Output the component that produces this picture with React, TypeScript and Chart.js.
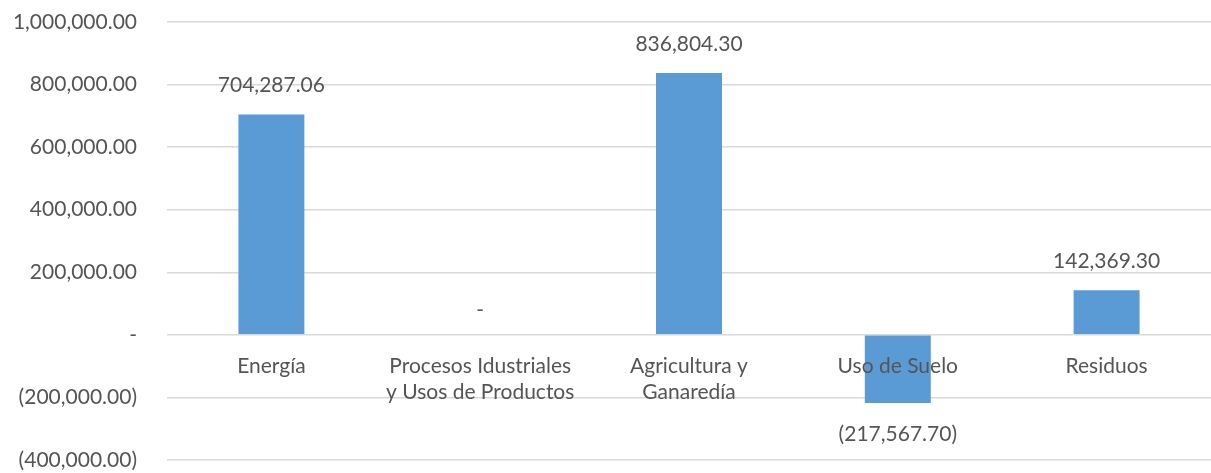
import React, { useEffect, useRef } from "react";
import { Chart, registerables } from "chart.js";

Chart.register(...registerables);

const categories: string[][] = [
  ["Energía"],
  ["Procesos Idustriales", "y Usos de Productos"],
  ["Agricultura y", "Ganaredía"],
  ["Uso de Suelo"],
  ["Residuos"],
];
const values: number[] = [704287.06, 0, 836804.3, -217567.7, 142369.3];
const yMin = -400000;
const yMax = 1000000;
const yStep = 200000;

const FONT = "Lato, 'Open Sans', sans-serif";
const TEXT = "#555555";
const FS = 21;

const fmt = (v: number) => {
  if (v === 0) return "-";
  const s = Math.abs(v).toLocaleString("en-US", { minimumFractionDigits: 2, maximumFractionDigits: 2 });
  return v < 0 ? `(${s})` : s;
};

const labelPlugin = {
  id: "labelPlugin",
  afterDatasetsDraw(chart: any) {
    const ctx = chart.ctx;
    const xs = chart.scales.x;
    const ys = chart.scales.y;
    const zeroY = ys.getPixelForValue(0);
    ctx.save();
    ctx.fillStyle = TEXT;
    ctx.font = `${FS}px ${FONT}`;
    ctx.textAlign = "center";
    ctx.textBaseline = "middle";
    categories.forEach((lines, i) => {
      const x = xs.getPixelForValue(i);
      lines.forEach((ln, j) => {
        ctx.fillText(ln, x, zeroY + 31 + j * 26);
      });
    });
    values.forEach((v, i) => {
      const x = xs.getPixelForValue(i);
      const yv = ys.getPixelForValue(v);
      let y: number;
      if (v > 0) y = yv - 29;
      else if (v < 0) y = yv + 31;
      else y = zeroY - 25;
      ctx.fillText(fmt(v), x, y);
    });
    ctx.restore();
  },
};

export default function App() {
  const ref = useRef<HTMLCanvasElement>(null);
  useEffect(() => {
    if (!ref.current) return;
    const chart = new Chart(ref.current, {
      type: "bar",
      data: {
        labels: categories.map((c) => c.join(" ")),
        datasets: [
          {
            data: values,
            backgroundColor: "#5B9BD5",
            borderWidth: 0,
            barPercentage: 0.316,
            categoryPercentage: 1,
          },
        ],
      },
      options: {
        animation: false,
        responsive: true,
        maintainAspectRatio: false,
        layout: { padding: { top: 22, bottom: 13, right: 0, left: 0 } },
        plugins: { legend: { display: false }, tooltip: { enabled: false } },
        scales: {
          x: {
            display: false,
          },
          y: {
            min: yMin,
            max: yMax,
            grid: { color: "#D9D9D9", lineWidth: 1.5, drawTicks: false },
            border: { display: false },
            afterFit: (s: any) => {
              s.width = 167;
              s.paddingTop = 0;
              s.paddingBottom = 0;
            },
            ticks: {
              stepSize: yStep,
              padding: 30,
              color: TEXT,
              font: { family: FONT, size: FS },
              callback: (v: any) => fmt(Number(v)),
            },
          },
        },
      },
      plugins: [labelPlugin],
    });
    return () => chart.destroy();
  }, []);
  return (
    <div style={{ position: "fixed", left: 0, top: 0, width: 1211, height: 473, background: "#fff" }}>
      <canvas ref={ref} />
    </div>
  );
}
